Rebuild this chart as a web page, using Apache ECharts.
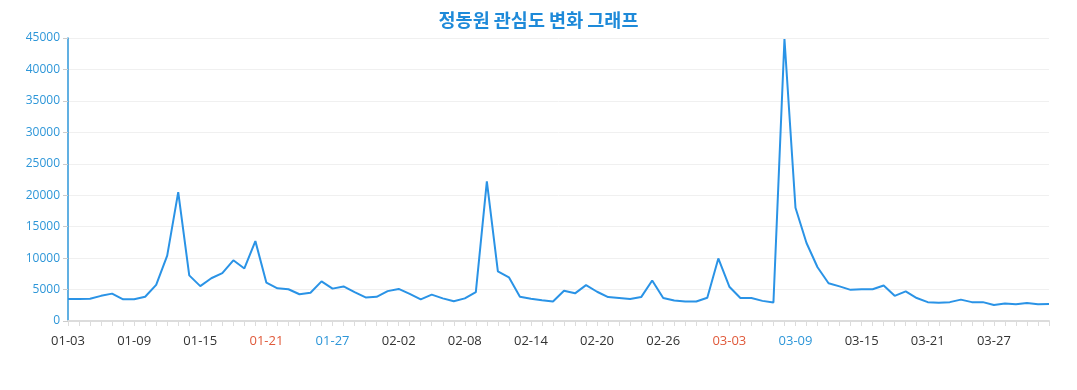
<!DOCTYPE html>
<html>
<head>
<meta charset="utf-8">
<script src="https://cdn.jsdelivr.net/npm/echarts@6/dist/echarts.min.js"></script>
<style>
html,body{margin:0;padding:0;background:#fff;}
#chart{width:1077px;height:390px;}
</style>
</head>
<body>
<div id="chart"></div>
<script>
const titleText = '정동원 관심도 변화 그래프';
const startDate = [2020, 0, 3];
const values = [
  3500, 3500, 3550, 4000, 4350, 3450, 3450, 3850, 5750, 10400,
  20500, 7250, 5550, 6800, 7600, 9650, 8350, 12700, 6100, 5200,
  5050, 4250, 4500, 6300, 5150, 5500, 4600, 3750, 3850, 4750,
  5100, 4300, 3450, 4200, 3600, 3150, 3600, 4600, 22200, 7900,
  6950, 3850, 3550, 3300, 3100, 4800, 4400, 5700, 4650, 3800,
  3650, 3500, 3800, 6450, 3650, 3250, 3100, 3100, 3700, 9950,
  5450, 3650, 3650, 3200, 2950, 44850, 18000, 12400, 8550, 6000,
  5500, 4950, 5050, 5050, 5650, 4000, 4700, 3650, 3000, 2900,
  3000, 3400, 3000, 3000, 2550, 2800, 2650, 2850, 2650, 2700
];
const redLabels = ['01-21', '03-03'];
const blueLabels = ['01-27', '03-09'];

function pad(n){ return (n < 10 ? '0' : '') + n; }
const categories = values.map(function(_, i){
  const d = new Date(startDate[0], startDate[1], startDate[2] + i);
  return pad(d.getMonth() + 1) + '-' + pad(d.getDate());
});

const chart = echarts.init(document.getElementById('chart'), null, {renderer: 'canvas'});
chart.setOption({
  animation: false,
  title: {
    text: titleText,
    left: 'center',
    top: 6,
    textStyle: {
      color: '#1e8ad9',
      fontSize: 18.5,
      fontWeight: 'bold',
      fontFamily: '"Noto Sans CJK KR", sans-serif'
    }
  },
  grid: { left: 68, right: 28, top: 38, bottom: 69, containLabel: false },
  xAxis: {
    type: 'category',
    boundaryGap: false,
    data: categories,
    axisLine: { lineStyle: { color: '#dcdcdc', width: 2 } },
    axisTick: { show: true, interval: 0, length: 5, lineStyle: { color: '#dcdcdc' } },
    axisLabel: {
      interval: 5,
      margin: 14,
      fontSize: 13,
      fontFamily: '"Open Sans", "Noto Sans", sans-serif',
      color: function(value){
        if (redLabels.indexOf(value) >= 0) return '#e0593a';
        if (blueLabels.indexOf(value) >= 0) return '#2d96d8';
        return '#333333';
      }
    }
  },
  yAxis: {
    type: 'value',
    min: 0,
    max: 45000,
    interval: 5000,
    axisLine: { show: true, lineStyle: { color: '#2d96d8', width: 1.5 } },
    axisTick: { show: true, length: 5, lineStyle: { color: '#cccccc' } },
    axisLabel: {
      color: '#2d96d8',
      fontSize: 12,
      margin: 8,
      fontFamily: '"Open Sans", "Noto Sans", sans-serif',
      formatter: function(v){ return String(v); }
    },
    splitLine: { lineStyle: { color: '#f0f0f0' } }
  },
  series: [{
    type: 'line',
    data: values,
    showSymbol: false,
    symbol: 'none',
    lineStyle: { color: '#2a93e6', width: 2 },
    itemStyle: { color: '#2a93e6' }
  }]
});
</script>
</body>
</html>
